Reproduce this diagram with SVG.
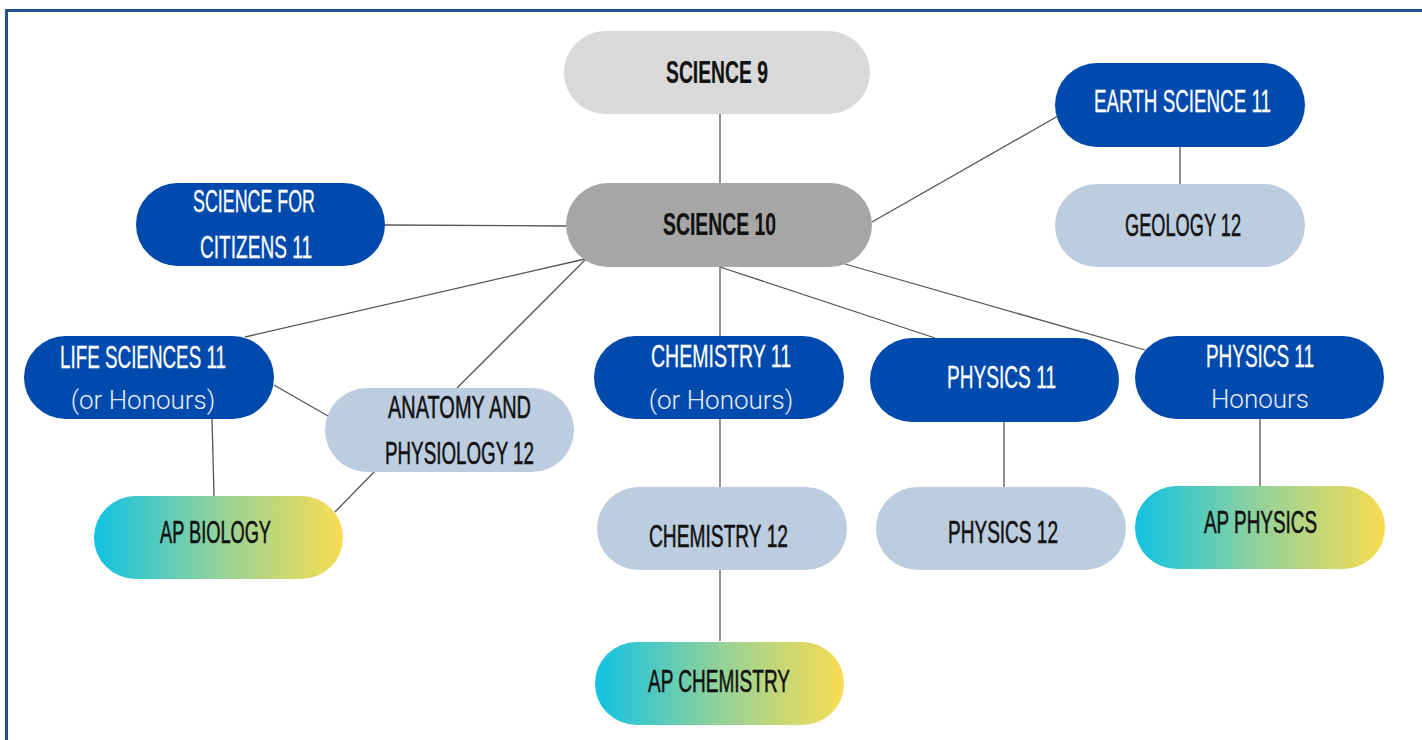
<svg xmlns="http://www.w3.org/2000/svg" width="1422" height="740" viewBox="0 0 1422 740">
<defs>
<linearGradient id="apg" x1="0" y1="0" x2="1" y2="0">
<stop offset="0" stop-color="#10c2e3"/>
<stop offset="0.5" stop-color="#93d29a"/>
<stop offset="1" stop-color="#fadc52"/>
</linearGradient>
<style>
.dark{fill:#004aad}
.light{fill:#bccde0}
.ap{fill:url(#apg)}
.cap{font-family:"Liberation Sans",Arial,sans-serif;font-size:32px}
.w{fill:#ffffff;stroke:#ffffff;stroke-width:0.3px}
.k{fill:#111111;stroke:#111111;stroke-width:0.55px}
.b{font-weight:bold;stroke-width:0.2px}
.sub{font-family:Roboto,"Liberation Sans",sans-serif;font-size:26px;font-weight:300;fill:#e8edf6;text-anchor:middle}
.conn line{stroke:#555555;stroke-width:1.3}
</style>
</defs>
<rect width="1422" height="740" fill="#ffffff"/>
<path d="M6.5 740 V10.5 H1422" fill="none" stroke="#24508a" stroke-width="3"/>
<g class="conn">
<line x1="720" y1="114" x2="720" y2="183"/>
<line x1="385" y1="225" x2="566" y2="226"/>
<line x1="872" y1="222" x2="1058" y2="116"/>
<line x1="1180" y1="147" x2="1180" y2="184"/>
<line x1="585" y1="259" x2="245" y2="337"/>
<line x1="585" y1="260" x2="457" y2="388"/>
<line x1="720" y1="267" x2="720" y2="336"/>
<line x1="720" y1="267" x2="935" y2="338"/>
<line x1="845" y1="264" x2="1145" y2="350"/>
<line x1="274" y1="385" x2="328" y2="416"/>
<line x1="212" y1="419" x2="214" y2="496"/>
<line x1="374" y1="472" x2="335" y2="512"/>
<line x1="720" y1="419" x2="720" y2="487"/>
<line x1="720" y1="570" x2="720" y2="641"/>
<line x1="1004" y1="422" x2="1004" y2="487"/>
<line x1="1260" y1="419" x2="1260" y2="486"/>
</g>
<g id="science9">
<rect x="564" y="31" width="306" height="83" rx="41.5" fill="#d9d9d9"/>
<text class="cap k b" x="666" y="83" textLength="102" lengthAdjust="spacingAndGlyphs">SCIENCE 9</text>
</g>
<g id="science10">
<rect x="566" y="183" width="306" height="84" rx="42" fill="#a6a6a6"/>
<text class="cap k b" x="663" y="235" textLength="113" lengthAdjust="spacingAndGlyphs">SCIENCE 10</text>
</g>
<g id="citizens11">
<rect class="dark" x="136" y="183" width="249" height="83" rx="41.5"/>
<text class="cap w" x="193" y="212" textLength="122" lengthAdjust="spacingAndGlyphs">SCIENCE FOR</text>
<text class="cap w" x="200" y="258" textLength="112" lengthAdjust="spacingAndGlyphs">CITIZENS 11</text>
</g>
<g id="earth11">
<rect class="dark" x="1055" y="63" width="250" height="84" rx="42"/>
<text class="cap w" x="1094" y="112" textLength="177" lengthAdjust="spacingAndGlyphs">EARTH SCIENCE 11</text>
</g>
<g id="geology12">
<rect class="light" x="1055" y="184" width="250" height="83" rx="41.5"/>
<text class="cap k" x="1125" y="236" textLength="116" lengthAdjust="spacingAndGlyphs">GEOLOGY 12</text>
</g>
<g id="life11">
<rect class="dark" x="24" y="336" width="250" height="83" rx="41.5"/>
<text class="cap w" x="60" y="368" textLength="166" lengthAdjust="spacingAndGlyphs">LIFE SCIENCES 11</text>
<text class="sub" x="143" y="409">(or Honours)</text>
</g>
<g id="anatomy12">
<rect class="light" x="325" y="388" width="249" height="84" rx="42"/>
<text class="cap k" x="388" y="418" textLength="143" lengthAdjust="spacingAndGlyphs">ANATOMY AND</text>
<text class="cap k" x="385" y="464" textLength="149" lengthAdjust="spacingAndGlyphs">PHYSIOLOGY 12</text>
</g>
<g id="apbiology">
<rect class="ap" x="94" y="496" width="249" height="83" rx="41.5"/>
<text class="cap k" x="160" y="543" textLength="111" lengthAdjust="spacingAndGlyphs">AP BIOLOGY</text>
</g>
<g id="chem11">
<rect class="dark" x="594" y="336" width="250" height="83" rx="41.5"/>
<text class="cap w" x="651" y="367" textLength="140" lengthAdjust="spacingAndGlyphs">CHEMISTRY 11</text>
<text class="sub" x="721" y="409">(or Honours)</text>
</g>
<g id="physics11">
<rect class="dark" x="870" y="338" width="249" height="84" rx="42"/>
<text class="cap w" x="947" y="388" textLength="109" lengthAdjust="spacingAndGlyphs">PHYSICS 11</text>
</g>
<g id="physics11h">
<rect class="dark" x="1135" y="336" width="249" height="83" rx="41.5"/>
<text class="cap w" x="1206" y="367" textLength="108" lengthAdjust="spacingAndGlyphs">PHYSICS 11</text>
<text class="sub" x="1260" y="408">Honours</text>
</g>
<g id="chem12">
<rect class="light" x="597" y="487" width="250" height="83" rx="41.5"/>
<text class="cap k" x="649" y="547" textLength="139" lengthAdjust="spacingAndGlyphs">CHEMISTRY 12</text>
</g>
<g id="physics12">
<rect class="light" x="876" y="487" width="250" height="83" rx="41.5"/>
<text class="cap k" x="948" y="543" textLength="110" lengthAdjust="spacingAndGlyphs">PHYSICS 12</text>
</g>
<g id="apphysics">
<rect class="ap" x="1135" y="486" width="250" height="83" rx="41.5"/>
<text class="cap k" x="1204" y="533" textLength="113" lengthAdjust="spacingAndGlyphs">AP PHYSICS</text>
</g>
<g id="apchemistry">
<rect class="ap" x="595" y="642" width="249" height="83" rx="41.5"/>
<text class="cap k" x="648" y="692" textLength="142" lengthAdjust="spacingAndGlyphs">AP CHEMISTRY</text>
</g>
</svg>
